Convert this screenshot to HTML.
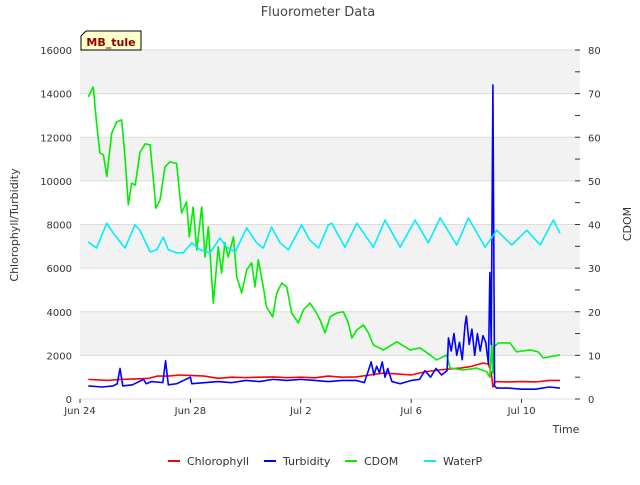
<!DOCTYPE html>
<html><head><meta charset="utf-8"><style>
body{margin:0;background:#fff;font-family:"Liberation Sans","DejaVu Sans",sans-serif}
svg text{font-family:"DejaVu Sans","Liberation Sans",sans-serif}
</style></head><body>
<svg id="c" width="640" height="480" viewBox="0 0 640 480" xmlns="http://www.w3.org/2000/svg">
<text x="318" y="16" text-anchor="middle" font-size="13" fill="#444">Fluorometer Data</text>
<g id="bands"></g><g id="ticks"></g><g id="series"></g>
<text transform="translate(18,225) rotate(-90)" text-anchor="middle" font-size="11" fill="#333">Chlorophyll/Turbidity</text>
<text transform="translate(631,224) rotate(-90)" text-anchor="middle" font-size="11" fill="#333">CDOM</text>
<text x="566" y="433" text-anchor="middle" font-size="11" fill="#333">Time</text>
<g><path d="M86,31 H141 V50 H81 V36 Z" fill="#ffffcc" stroke="#000" stroke-width="1"/><text x="111" y="46" text-anchor="middle" font-size="11" font-weight="bold" fill="#8b0000">MB_tule</text></g>
<g id="legend"></g>
</svg>
<script>
const xTickLabels=["Jun 24","Jun 28","Jul 2","Jul 6","Jul 10"];
const xTickDays=[0,4,8,12,16];
const leftTicks=[0,2000,4000,6000,8000,10000,12000,14000,16000];
const rightTicks=[0,10,20,30,40,50,60,70,80];
const cdomDays=[0.30,0.48,0.6,0.72,0.85,0.97,1.15,1.33,1.51,1.63,1.75,1.87,2.0,2.17,2.36,2.54,2.66,2.75,2.9,3.08,3.26,3.5,3.68,3.86,3.96,4.1,4.23,4.41,4.53,4.65,4.83,5.01,5.13,5.25,5.37,5.56,5.68,5.86,6.04,6.22,6.34,6.46,6.64,6.76,6.98,7.13,7.31,7.49,7.67,7.91,8.09,8.33,8.57,8.7,8.88,9.06,9.3,9.54,9.72,9.85,10.03,10.27,10.45,10.63,10.99,11.48,11.96,12.32,12.68,12.92,13.29,13.41,13.89,14.37,14.74,14.85,14.92,14.96,15.0,15.16,15.58,15.82,16.3,16.6,16.79,17.39];
const cdomVals=[13850,14300,12650,11280,11200,10200,12200,12700,12800,11100,8900,9900,9800,11300,11700,11650,10050,8750,9130,10650,10870,10800,8530,9040,7430,8800,6830,8800,6510,7890,4400,6970,5780,7160,6510,7430,5600,4860,5920,6240,5140,6380,5140,4220,3760,4860,5320,5140,3940,3490,4080,4400,3940,3620,3030,3760,3940,4000,3490,2800,3170,3400,3030,2480,2250,2620,2250,2340,2020,1790,2020,1420,1330,1420,1240,1000,2570,1200,2400,2570,2570,2160,2250,2160,1880,2020];
const waterDays=[0.30,0.60,0.97,1.21,1.63,1.99,2.17,2.54,2.78,3.02,3.20,3.50,3.74,4.05,4.35,4.71,5.07,5.31,5.62,6.04,6.40,6.64,6.94,7.25,7.55,8.03,8.33,8.64,9.0,9.12,9.60,10.03,10.63,11.05,11.60,12.14,12.62,13.05,13.65,14.07,14.68,15.10,15.64,16.19,16.67,17.15,17.39];
const waterVals=[36.0,34.6,40.3,38.0,34.6,39.9,38.7,33.7,34.2,37.1,34.2,33.5,33.5,35.8,34.2,33.5,36.9,34.8,33.7,39.2,35.8,34.6,39.4,35.8,34.2,39.9,36.4,34.6,39.9,40.3,34.8,40.3,34.8,41.0,34.8,41.0,35.8,41.5,35.3,41.5,34.8,38.7,35.3,38.7,35.3,41.0,38.0];
const chlDays=[0.3,1.0,1.5,2.0,2.5,2.8,3.2,3.6,4.0,4.5,5.0,5.5,6.0,6.5,7.0,7.5,8.0,8.5,9.0,9.5,10.0,10.5,11.0,11.5,12.0,12.5,13.0,13.4,13.8,14.2,14.6,14.8,14.9,14.96,15.05,15.5,16.0,16.5,17.0,17.39];
const chlVals=[900,850,900,920,950,1050,1050,1100,1080,1050,950,1000,980,1000,1010,980,1000,970,1050,1000,1010,1100,1190,1150,1100,1250,1330,1380,1420,1500,1650,1600,1200,550,800,780,800,780,850,850];
const turbDays=[0.3,0.8,1.2,1.35,1.45,1.55,1.9,2.3,2.4,2.6,3.0,3.1,3.2,3.5,4.0,4.05,4.5,5.0,5.5,6.0,6.5,7.0,7.5,8.0,8.5,9.0,9.5,10.0,10.3,10.45,10.55,10.65,10.75,10.85,10.95,11.05,11.15,11.3,11.6,12.0,12.3,12.5,12.7,12.9,13.1,13.3,13.35,13.45,13.55,13.65,13.75,13.85,13.95,14.0,14.1,14.2,14.3,14.4,14.5,14.6,14.7,14.8,14.85,14.9,14.96,15.02,15.1,15.5,16.0,16.5,17.0,17.39];
const turbVals=[600,550,600,700,1400,600,650,900,700,800,750,1750,650,700,1000,700,750,800,750,850,800,900,850,900,850,800,850,850,750,1300,1700,1100,1500,1200,1700,1000,1400,800,700,850,900,1300,1000,1400,1100,1300,2800,2200,3000,2000,2600,1800,3400,3800,2500,3200,2000,3000,2200,2900,2600,1600,5800,2500,14400,600,500,500,450,450,550,500];
const NS='http://www.w3.org/2000/svg';
const L=80,R=580,T=50,B=399;
const x=d=>L+d*27.6, yl=v=>B-v*(B-T)/16000, yr=v=>B-v*(B-T)/80;
function mk(tag,attrs,parent){const e=document.createElementNS(NS,tag);for(const k in attrs)e.setAttribute(k,attrs[k]);parent.appendChild(e);return e;}
const bands=document.getElementById('bands'),ticks=document.getElementById('ticks'),series=document.getElementById('series'),legend=document.getElementById('legend');
for(let i=0;i<leftTicks.length-1;i++){
  if(i%2===1){const r=mk('rect',{x:L,y:yl(leftTicks[i+1]),width:R-L,height:yl(leftTicks[i])-yl(leftTicks[i+1]),fill:'#f2f2f2'},bands);
  
  }
}
leftTicks.forEach(v=>{const g=mk('line',{x1:L,x2:R,y1:yl(v),y2:yl(v),stroke:'#dcdcdc','stroke-width':1},bands);


const t=mk('text',{x:L-8,y:yl(v)+4,'text-anchor':'end','font-size':10,fill:'#333'},ticks);t.textContent=v;

});
rightTicks.forEach(v=>{const t=mk('text',{x:R+8,y:yr(v)+4,'font-size':10,fill:'#333'},ticks);t.textContent=v;


mk('line',{x1:R-5,x2:R,y1:yr(v),y2:yr(v),stroke:'#333'},ticks);
if(v<80)mk('line',{x1:R-5,x2:R,y1:yr(v+5),y2:yr(v+5),stroke:'#333'},ticks);});
xTickDays.forEach((d,i)=>{mk('line',{x1:x(d),x2:x(d),y1:B,y2:B+4,stroke:'#333'},ticks);
const t=mk('text',{x:x(d),y:B+15,'text-anchor':'middle','font-size':10,fill:'#333'},ticks);t.textContent=xTickLabels[i];

});
function line(days,vals,yf,color,name){const p=mk('polyline',{points:days.map((d,i)=>x(d)+','+yf(vals[i])).join(' '),fill:'none',stroke:color,'stroke-width':1.6,'stroke-linejoin':'round'},series);

}
line(chlDays,chlVals,yl,'#ff0000','chlorophyll-line');
line(cdomDays,cdomVals,yl,'#00ee00','cdom-line');
line(turbDays,turbVals,yl,'#0000ff','turbidity-line');
line(waterDays,waterVals,yr,'#00eeff','waterp-line');
[['Chlorophyll','#ff0000',168],['Turbidity','#0000ff',264],['CDOM','#00ee00',345],['WaterP','#00eeff',424]].forEach(([n,c,lx])=>{
 const g=mk('g',{},legend);
 
 
 mk('line',{x1:lx,x2:lx+12,y1:461,y2:461,stroke:c,'stroke-width':2},g);
 const t=mk('text',{x:lx+19,y:465,'font-size':11,fill:'#333'},g);t.textContent=n;});
</script>
</body></html>
